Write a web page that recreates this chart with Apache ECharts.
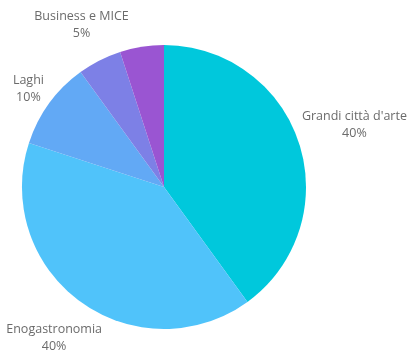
<!DOCTYPE html>
<html>
<head>
<meta charset="utf-8">
<script src="https://cdn.jsdelivr.net/npm/echarts@6/dist/echarts.min.js"></script>
<style>html,body{margin:0;padding:0;background:#fff}#c{width:409px;height:351px}</style>
</head>
<body>
<div id="c"></div>
<script>
const categories = ["Grandi città d'arte", "Enogastronomia", "Laghi", "Business e MICE", "Altro"];
const values = [40, 40, 10, 5, 5];
const showLabel = [true, true, true, true, false];
const colors = ['#00C8DC', '#50C3FA', '#62A9F5', '#7D80E6', '#9A55D2'];

const CX = 164, CY = 187, R = 142, GAP = 3;
const total = values.reduce((a, b) => a + b, 0);

const chart = echarts.init(document.getElementById('c'));
chart.setOption({
  animation: false,
  series: [{
    type: 'pie',
    center: [CX, CY],
    radius: [0, R],
    startAngle: 90,
    clockwise: true,
    silent: true,
    avoidLabelOverlap: false,
    data: categories.map((c, i) => ({
      name: c, value: values[i],
      itemStyle: { color: colors[i] },
      label: { show: showLabel[i] }
    })),
    label: {
      position: 'outside',
      alignTo: 'none',
      overflow: 'none',
      bleedMargin: 0,
      formatter: p => p.name + '\n' + p.value + '%',
      color: '#6b6b6b',
      fontFamily: 'Open Sans',
      fontSize: 12.5,
      lineHeight: 17,
      align: 'center'
    },
    labelLine: { show: false },
    labelLayout: function (params) {
      const i = params.dataIndex;
      let cum = 0;
      for (let k = 0; k < i; k++) cum += values[k];
      const mid = (cum + values[i] / 2) / total * 2 * Math.PI;
      const dx = Math.sin(mid), dy = -Math.cos(mid);
      const w = params.labelRect.width, h = params.labelRect.height;
      const ext = Math.abs(dx) * w / 2 + Math.abs(dy) * h / 2;
      const d = R + GAP + ext;
      return { x: CX + dx * d, y: CY + dy * d, align: 'center', verticalAlign: 'middle' };
    }
  }]
});
</script>
</body>
</html>
